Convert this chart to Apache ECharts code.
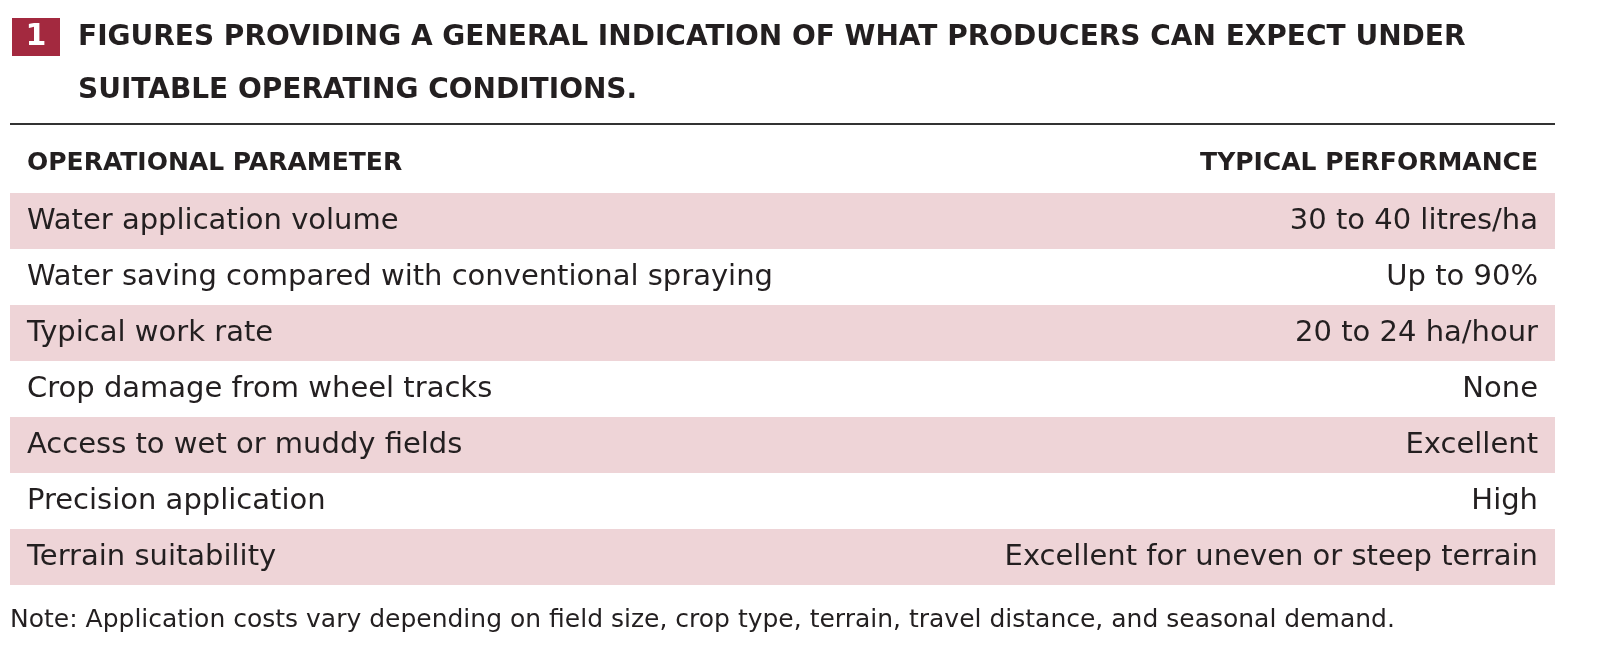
<!DOCTYPE html>
<html><head><meta charset="utf-8">
<script src="https://cdn.jsdelivr.net/npm/echarts@6/dist/echarts.min.js"></script>
<style>html,body{margin:0;padding:0;background:#fff}#c{width:1605px;height:671px}</style>
</head><body><div id="c"></div>
<script>
const parameters = ["Water application volume","Water saving compared with conventional spraying","Typical work rate","Crop damage from wheel tracks","Access to wet or muddy fields","Precision application","Terrain suitability"];
const performance = ["30 to 40 litres/ha","Up to 90%","20 to 24 ha/hour","None","Excellent","High","Excellent for uneven or steep terrain"];
const headers = ["OPERATIONAL PARAMETER","TYPICAL PERFORMANCE"];
const titleLines = "FIGURES PROVIDING A GENERAL INDICATION OF WHAT PRODUCERS CAN EXPECT UNDER\nSUITABLE OPERATING CONDITIONS.";
const note = "Note: Application costs vary depending on field size, crop type, terrain, travel distance, and seasonal demand.";
const FONT = "'DejaVu Sans'";
const chart = echarts.init(document.getElementById('c'));
chart.setOption({
  animation:false,
  grid:{left:10,right:50,top:193,height:392},
  xAxis:{type:'value',min:0,max:1,show:false},
  yAxis:{type:'category',data:parameters,inverse:true,show:false},
  graphic:[
    {type:'rect',shape:{x:12,y:18,width:48,height:38},style:{fill:'#a3293f'}},
    {type:'text',style:{x:36,y:37,text:'1',fill:'#fff',font:'bold 30px '+FONT,align:'center',verticalAlign:'middle'}},
    {type:'text',style:{x:78,y:11,text:titleLines,fill:'#231f20',font:'bold 28px '+FONT,lineHeight:53}},
    {type:'line',shape:{x1:10,y1:124,x2:1555,y2:124},style:{stroke:'#333',lineWidth:2}},
    {type:'text',style:{x:27,y:163,text:headers[0],fill:'#231f20',font:'bold 25px '+FONT,verticalAlign:'middle'}},
    {type:'text',style:{x:1538,y:163,text:headers[1],fill:'#231f20',font:'bold 25px '+FONT,align:'right',verticalAlign:'middle'}},
    {type:'text',style:{x:10,y:620,text:note,fill:'#231f20',font:'25px '+FONT,verticalAlign:'middle'}}
  ],
  series:[{
    type:'custom',
    data:parameters.map((p,i)=>[i]),
    encode:{y:0},
    renderItem:function(params,api){
      const i=api.value(0);
      const c0=api.coord([0,i]);const c1=api.coord([1,i]);
      const h=api.size([0,1])[1];
      const ch=[];
      if(i%2===0) ch.push({type:'rect',shape:{x:c0[0],y:c0[1]-h/2,width:c1[0]-c0[0],height:h},style:{fill:'#eed4d7'}});
      ch.push({type:'text',style:{x:c0[0]+17,y:c0[1],text:parameters[i],fill:'#231f20',font:'29px '+FONT,verticalAlign:'middle'}});
      ch.push({type:'text',style:{x:c1[0]-17,y:c0[1],text:performance[i],fill:'#231f20',font:'29px '+FONT,align:'right',verticalAlign:'middle'}});
      return {type:'group',children:ch};
    }
  }]
});
</script></body></html>
